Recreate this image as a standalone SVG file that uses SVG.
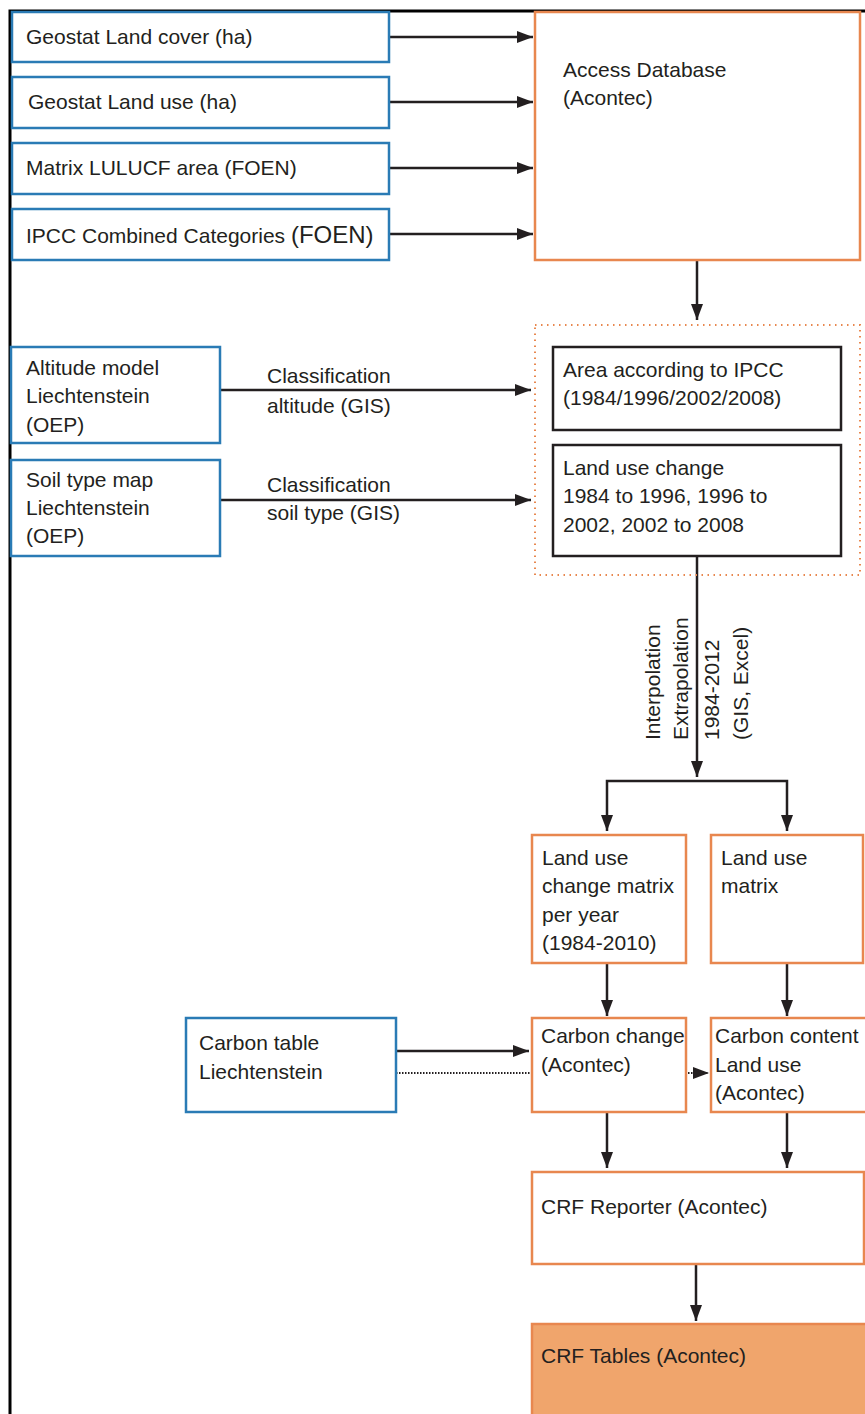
<svg xmlns="http://www.w3.org/2000/svg" width="865" height="1414" viewBox="0 0 865 1414">
<style>
text{font-family:"Liberation Sans",Arial,sans-serif;font-size:21px;fill:#231f20}
.blue{fill:#fff;stroke:#2a7bb5;stroke-width:2.5}
.orange{fill:#fff;stroke:#e8874f;stroke-width:2.5}
.black{fill:#fff;stroke:#231f20;stroke-width:2.5}
.filled{fill:#f0a56c;stroke:#e8874f;stroke-width:2.5}
.dots{fill:none;stroke:#e8874f;stroke-width:2;stroke-dasharray:1.5 4.5}
.c{fill:none;stroke:#231f20;stroke-width:2.5}
.d{fill:none;stroke:#231f20;stroke-width:2;stroke-dasharray:1.5 1.5}
</style>
<defs>
<marker id="ah" markerUnits="userSpaceOnUse" markerWidth="16" markerHeight="12" refX="16" refY="6" orient="auto">
<path d="M0,0 L16,6 L0,12 z" fill="#231f20"/>
</marker>
</defs>
<rect width="865" height="1414" fill="#fff"/>
<path d="M10,1414 V11 H865" fill="none" stroke="#000" stroke-width="3"/>

<g id="connectors">
<path class="c" d="M389,37 H533" marker-end="url(#ah)"/>
<path class="c" d="M389,102 H533" marker-end="url(#ah)"/>
<path class="c" d="M389,168 H533" marker-end="url(#ah)"/>
<path class="c" d="M389,234 H533" marker-end="url(#ah)"/>
<path class="c" d="M697,260 V320" marker-end="url(#ah)"/>
<path class="c" d="M220,390 H531" marker-end="url(#ah)"/>
<path class="c" d="M220,500 H531" marker-end="url(#ah)"/>
<path class="c" d="M697,556 V777" marker-end="url(#ah)"/>
<path class="c" d="M697,781 H607 V831" marker-end="url(#ah)"/>
<path class="c" d="M697,781 H787 V831" marker-end="url(#ah)"/>
<path class="c" d="M607,963 V1016" marker-end="url(#ah)"/>
<path class="c" d="M787,963 V1016" marker-end="url(#ah)"/>
<path class="c" d="M396,1051 H529" marker-end="url(#ah)"/>
<path class="d" d="M396,1073 H532"/>
<path class="d" d="M688,1073 H709" marker-end="url(#ah)"/>
<path class="c" d="M607,1112 V1168" marker-end="url(#ah)"/>
<path class="c" d="M787,1112 V1168" marker-end="url(#ah)"/>
<path class="c" d="M696,1264 V1321" marker-end="url(#ah)"/>
</g>

<g id="n-geostat-cover"><rect class="blue" x="12" y="12" width="377" height="50"/><text x="26" y="44">Geostat Land cover (ha)</text></g>
<g id="n-geostat-use"><rect class="blue" x="12" y="77" width="377" height="51"/><text x="28" y="109">Geostat Land use (ha)</text></g>
<g id="n-matrix"><rect class="blue" x="12" y="143" width="377" height="51"/><text x="26" y="175">Matrix LULUCF area (FOEN)</text></g>
<g id="n-ipcc"><rect class="blue" x="12" y="209" width="377" height="51"/><text x="26" y="243">IPCC Combined Categories <tspan font-size="24">(FOEN)</tspan></text></g>
<g id="n-access"><rect class="orange" x="535" y="12" width="325" height="248"/><text x="563" y="77">Access Database</text><text x="563" y="105">(Acontec)</text></g>

<g id="n-group"><rect class="dots" x="535" y="325" width="325" height="250"/></g>
<g id="n-area"><rect class="black" x="553" y="347" width="288" height="83"/><text x="563" y="377">Area according to IPCC</text><text x="563" y="405">(1984/1996/2002/2008)</text></g>
<g id="n-luc"><rect class="black" x="553" y="445" width="288" height="111"/><text x="563" y="475">Land use change</text><text x="563" y="503">1984 to 1996, 1996 to</text><text x="563" y="532">2002, 2002 to 2008</text></g>

<g id="n-altitude"><rect class="blue" x="11" y="347" width="209" height="96"/><text x="26" y="375">Altitude model</text><text x="26" y="403">Liechtenstein</text><text x="26" y="432">(OEP)</text></g>
<g id="n-soil"><rect class="blue" x="11" y="460" width="209" height="96"/><text x="26" y="487">Soil type map</text><text x="26" y="515">Liechtenstein</text><text x="26" y="543">(OEP)</text></g>

<g id="labels">
<text x="267" y="383">Classification</text><text x="267" y="413">altitude (GIS)</text>
<text x="267" y="492">Classification</text><text x="267" y="520">soil type (GIS)</text>
<text transform="translate(660,740) rotate(-90)">Interpolation</text>
<text transform="translate(688,740) rotate(-90)">Extrapolation</text>
<text transform="translate(719,740) rotate(-90)">1984-2012</text>
<text transform="translate(748,740) rotate(-90)">(GIS, Excel)</text>
</g>

<g id="n-lucm"><rect class="orange" x="532" y="835" width="154" height="128"/><text x="542" y="865">Land use</text><text x="542" y="893">change matrix</text><text x="542" y="922">per year</text><text x="542" y="950">(1984-2010)</text></g>
<g id="n-lum"><rect class="orange" x="711" y="835" width="152" height="128"/><text x="721" y="865">Land use</text><text x="721" y="893">matrix</text></g>

<g id="n-carbon-table"><rect class="blue" x="186" y="1018" width="210" height="94"/><text x="199" y="1050">Carbon table</text><text x="199" y="1079">Liechtenstein</text></g>
<g id="n-carbon-change"><rect class="orange" x="532" y="1018" width="154" height="94"/><text x="541" y="1043">Carbon change</text><text x="541" y="1072">(Acontec)</text></g>
<g id="n-carbon-content"><rect class="orange" x="711" y="1018" width="160" height="94"/><text x="715" y="1043">Carbon content</text><text x="715" y="1072">Land use</text><text x="715" y="1100">(Acontec)</text></g>
<g id="n-crf-reporter"><rect class="orange" x="532" y="1172" width="332" height="92"/><text x="541" y="1214">CRF Reporter (Acontec)</text></g>
<g id="n-crf-tables"><rect class="filled" x="532" y="1324" width="340" height="100"/><text x="541" y="1363">CRF Tables (Acontec)</text></g>
</svg>
